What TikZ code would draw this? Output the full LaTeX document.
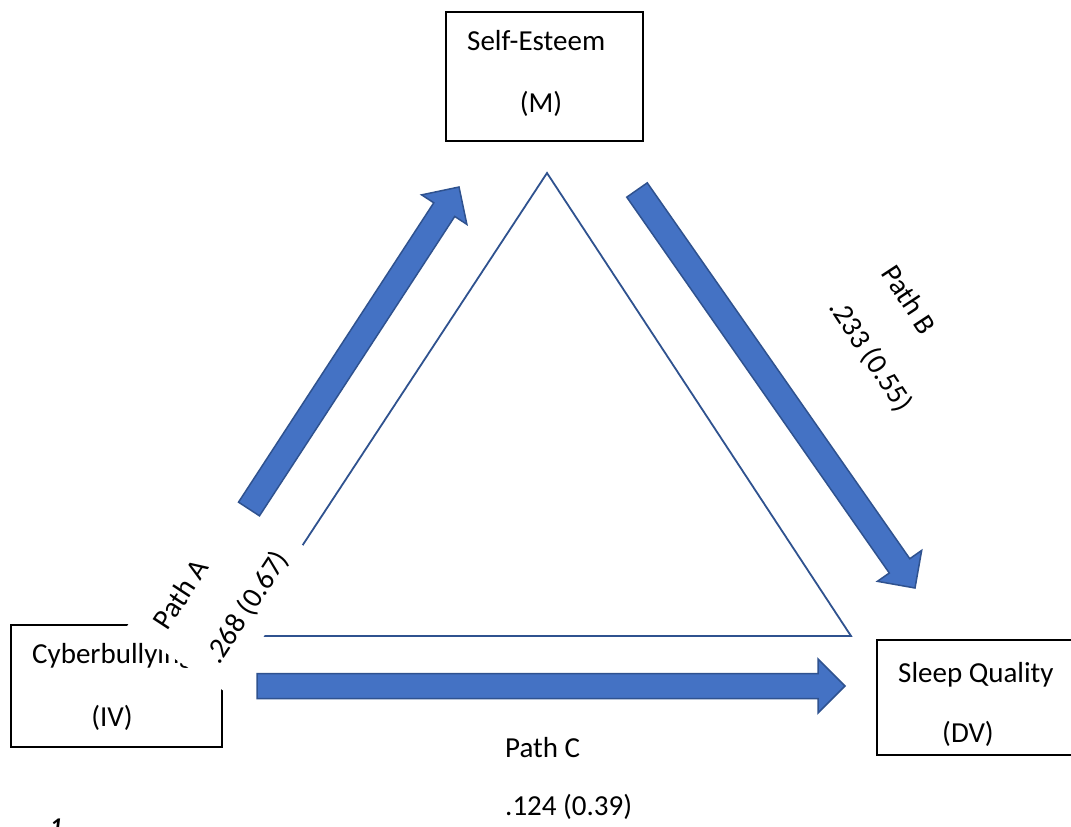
\documentclass[tikz,border=0pt]{standalone}
\usepackage{fontspec}
\setmainfont{Carlito}
\usetikzlibrary{calc}
\definecolor{afill}{HTML}{4472C4}
\definecolor{aedge}{HTML}{2F528F}
\newcommand{\blockarrow}[2]{%
  \coordinate (#1-hb) at ($(#2)!27pt!(#1)$);
  \draw[barrow] ($(#1)!12.5pt!90:(#2)$)
    -- ($(#1-hb)!12.5pt!-90:(#1)$)
    -- ($(#1-hb)!27pt!-90:(#1)$)
    -- (#2)
    -- ($(#1-hb)!27pt!90:(#1)$)
    -- ($(#1-hb)!12.5pt!90:(#1)$)
    -- ($(#1)!12.5pt!-90:(#2)$) -- cycle;
}
\begin{document}
\begin{tikzpicture}[x=1pt,y=-1pt,
  font=\fontsize{29}{62}\selectfont,
  box/.style={draw=black, line width=1.6pt, inner sep=0pt},
  lbl/.style={inner sep=0pt, anchor=base west},
  mid/.style={inner sep=0pt, anchor=base},
  barrow/.style={fill=afill, draw=aedge, line width=1.5pt, line join=miter},
  tri/.style={draw=aedge, line width=1.8pt, line join=miter}]
\useasboundingbox (0,0) rectangle (1071,827);
\clip (0,0) rectangle (1071,827);
\fill[white] (0,0) rectangle (1071,827);

% triangle
\coordinate (tA) at (547,173);
\coordinate (tL) at (243,636);
\coordinate (tR) at (851,636);
\draw[tri] (tL) -- (tA) -- (tR) -- cycle;

% boxes
\node[box, minimum width=197pt, minimum height=129pt] (se) at (544.5,76.5) {};
\node[box, minimum width=211pt, minimum height=122pt] (cb) at (116.5,686) {};
\node[box, minimum width=213pt, minimum height=115pt] (sq) at (983.5,697.5) {};

% box texts
\node[lbl] (seT1) at (467,50) {Self-Esteem};
\node[mid] (seT2) at (541,112) {(M)};
\node[lbl] (cbT1) at (32,663) {Cyberbullying};
\node[mid] (cbT2) at (112,726) {(IV)};
\node[lbl] (sqT1) at (898,682) {Sleep Quality};
\node[mid] (sqT2) at (968,742) {(DV)};

% path labels
\node[fill=white, rotate=56.8, minimum width=165pt, minimum height=120pt,
      align=left, inner sep=0pt] (pa) at (221.8,591) {Path A\\.268 (0.67)};
\node[rotate=-56.7, align=left, inner sep=0pt] (pb) at (896,339) {Path B\\.233 (0.55)};
\node[lbl] (pc1) at (505,757) {Path C};
\node[lbl] (pc2) at (505,815) {.124 (0.39)};

% block arrows
\coordinate (aT) at (249,509);
\coordinate (aH) at (459,187);
\coordinate (bT) at (637,190);
\coordinate (bH) at (915,588);
\coordinate (cT) at (257,686);
\coordinate (cH) at (845,686);
\blockarrow{aT}{aH}
\blockarrow{bT}{bH}
\blockarrow{cT}{cH}

% fragment at bottom left
\node[inner sep=0pt, anchor=north west, font=\fontsize{24}{28}\selectfont\bfseries\itshape] (frag) at (50,819) {1};
\end{tikzpicture}
\end{document}
